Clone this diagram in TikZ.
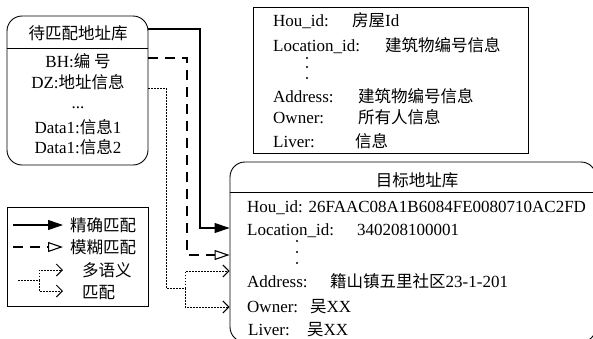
\documentclass[tikz,border=0pt]{standalone}
\usepackage{fontspec}
\setmainfont{Liberation Serif}
\newfontfamily\zhfont{Noto Sans CJK SC}
\usetikzlibrary{arrows.meta}
\newcommand{\zz}[1]{{\zhfont\fontsize{16.5}{19}\selectfont #1}}
\begin{document}
\begin{tikzpicture}[x=1pt,y=-1pt,font=\fontsize{17}{20}\selectfont,
  txt/.style={inner sep=0pt,anchor=base west},
  ctxt/.style={inner sep=0pt,anchor=base},
  frame/.style={draw,line width=0.9pt},
  conn/.style={line width=1.1pt},
  solidc/.style={conn,-{Triangle[length=15pt,width=10pt]}},
  dashc/.style={conn,dash pattern=on 10pt off 7pt,-{Triangle[open,length=15pt,width=10pt]}},
  dotline/.style={line width=0.9pt,dash pattern=on 1.5pt off 1.5pt},
  dotc/.style={dotline,-{Straight Barb[length=6pt,width=12pt,line width=1pt]}},
  vdot/.style={circle,fill,inner sep=0pt,minimum size=2.2pt}]
\useasboundingbox (0,0) rectangle (593,338);

% ---------- source box ----------
\node[frame,rounded corners=15pt,minimum width=141pt,minimum height=149pt,inner sep=0pt] (src) at (77.5,90.5) {};
\node[ctxt] (srct) at (78,39) {\zz{待匹配地址库}};
\draw[frame] (src.west |- 0,48) -- (src.east |- 0,48);
\node[ctxt] (bh) at (78,67) {BH:\zz{编 号}};
\node[ctxt] (dz) at (78,88) {DZ:\zz{地址信息}};
\node[ctxt] (ell) at (78,108) {...};
\node[ctxt] (d1) at (78,133) {Data1:\zz{信息}1};
\node[ctxt] (d2) at (78,153) {Data1:\zz{信息}2};

% ---------- attribute box ----------
\node[frame,minimum width=275pt,minimum height=146pt,inner sep=0pt] (attr) at (390.5,80) {};
\node[txt] (a1) at (273,26) {Hou\_id:};
\node[txt] (a1v) at (352,26) {\zz{房屋}Id};
\node[txt] (a2) at (273,51) {Location\_id:};
\node[txt] (a2v) at (385,51) {\zz{建筑物编号信息}};
\node[vdot] (ad1) at (307,58) {};
\node[vdot] (ad2) at (307,67) {};
\node[vdot] (ad3) at (307,78) {};
\node[txt] (a3) at (273,102) {Address:};
\node[txt] (a3v) at (358,102) {\zz{建筑物编号信息}};
\node[txt] (a4) at (273,123) {Owner:};
\node[txt] (a4v) at (358,123) {\zz{所有人信息}};
\node[txt] (a5) at (273,147) {Liver:};
\node[txt] (a5v) at (355,147) {\zz{信息}};

% ---------- target box ----------
\node[frame,rounded corners=15pt,minimum width=366pt,minimum height=180pt,inner sep=0pt] (tgt) at (413,252) {};
\node[ctxt] (tgtt) at (417,186) {\zz{目标地址库}};
\draw[frame] (tgt.west |- 0,192) -- (tgt.east |- 0,192);
\node[txt] (t1) at (247,212) {Hou\_id: 26FAAC08A1B6084FE0080710AC2FD};
\node[txt] (t2) at (247,235) {Location\_id:};
\node[txt] (t2v) at (357,235) {340208100001};
\node[vdot] (td1) at (297,241) {};
\node[vdot] (td2) at (297,252) {};
\node[vdot] (td3) at (297,263) {};
\node[txt] (t3) at (247,287) {Address:};
\node[txt] (t3v) at (330,287) {\zz{籍山镇五里社区}23-1-201};
\node[txt] (t4) at (247,312) {Owner:};
\node[txt] (t4v) at (310,312) {\zz{吴}XX};
\node[txt] (t5) at (248,335) {Liver:};
\node[txt] (t5v) at (307,335) {\zz{吴}XX};

% ---------- connectors ----------
\draw[solidc] (src.east |- 0,29) -- (200,29) -- (200,228) -- (tgt.west |- 0,228);
\draw[dashc] (src.east |- 0,58) -- (187,58) -- (187,255) -- (tgt.west |- 0,255);
\coordinate (fork) at (185,288);
\draw[dotline] (src.east |- 0,88) -- (166,88) -- (166,288) -- (fork);
\draw[dotc] (fork) |- (tgt.west |- 0,271);
\draw[dotc] (fork) |- (tgt.west |- 0,307);

% ---------- legend ----------
\node[frame,minimum width=141pt,minimum height=99pt,inner sep=0pt] (leg) at (77.5,256.5) {};
\node[txt] (l1) at (70,231) {\zz{精确匹配}};
\node[txt] (l2) at (70,253) {\zz{模糊匹配}};
\node[txt] (l3) at (82,276) {\zz{多语义}};
\node[txt] (l4) at (82,298) {\zz{匹配}};
\coordinate (ls1) at (13,225);
\coordinate (le1) at (63,225);
\coordinate (ls2) at (13,247);
\coordinate (le2) at (63,247);
\coordinate (ls3) at (18,280);
\coordinate (lfork) at (39,280);
\coordinate (le3) at (63,270);
\coordinate (le4) at (63,291);
\draw[solidc] (ls1) -- (le1);
\draw[dashc] (ls2) -- (le2);
\draw[dotline] (ls3) -- (lfork);
\draw[dotc] (lfork) |- (le3);
\draw[dotc] (lfork) |- (le4);
\end{tikzpicture}
\end{document}
